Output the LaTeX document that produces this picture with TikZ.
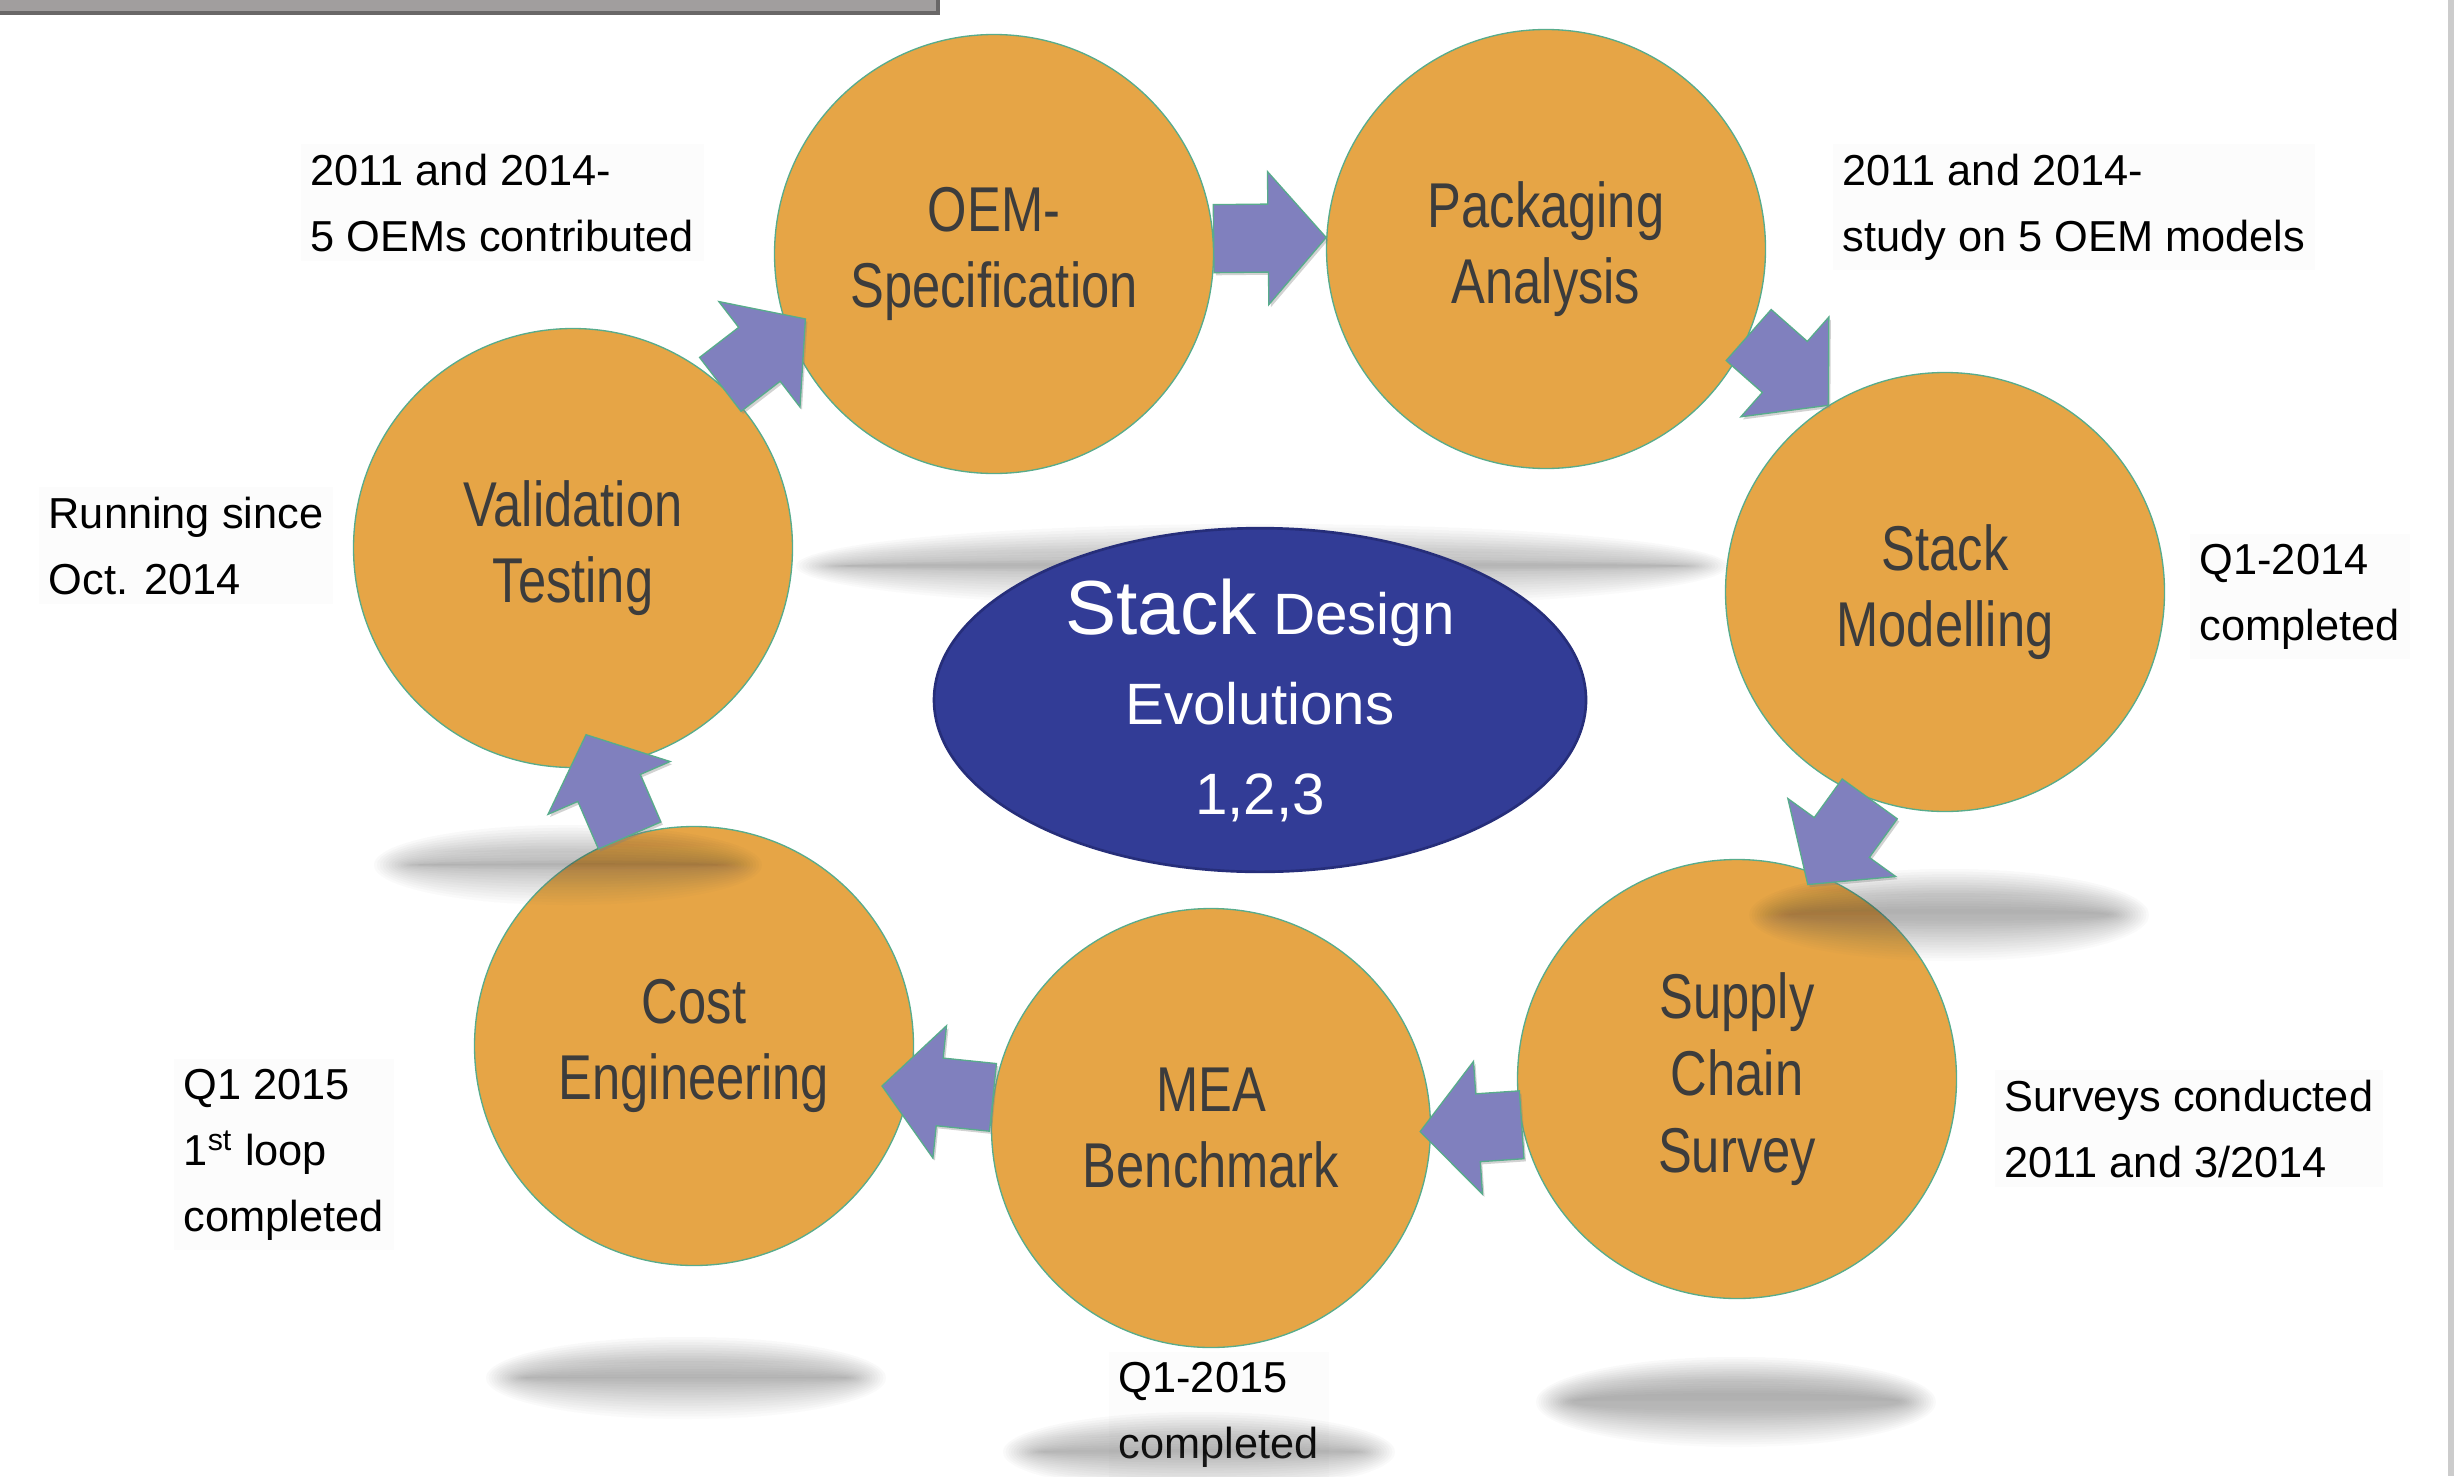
\documentclass[tikz,border=0pt]{standalone}
\usepackage{fontspec}
\setmainfont{Liberation Sans}
\newfontfamily\circfont[FakeStretch=0.8]{Liberation Sans}
\usetikzlibrary{calc,shadows,shapes.geometric}

\definecolor{disc}{RGB}{230,165,70}
\definecolor{discline}{RGB}{88,172,140}
\definecolor{flow}{RGB}{128,128,190}
\definecolor{hub}{RGB}{50,60,150}
\definecolor{hubline}{RGB}{38,46,122}
\definecolor{disctext}{RGB}{60,60,60}
\definecolor{shade}{RGB}{80,70,70}
\definecolor{topbar}{RGB}{161,158,158}

% soft floor shadow: centre x, centre y, core x radius, core y radius, blur width
\newcommand\softshadow[5]{%
  \foreach \k in {0,...,15}{%
    \fill[shade, opacity=0.016] (#1,#2) ellipse [x radius={#3+#5-\k*#5/7.5}, y radius={#4+#5-\k*#5/7.5}];
  }}

% block arrow from a tail point to a tip point
\newcommand\flowlink[2]{%
  \path (#1) coordinate (fl-t) (#2) coordinate (fl-p);
  \path ($(fl-p)!17.4pt!(fl-t)$) coordinate (fl-b);
  \draw[flowarrow]
    ($(fl-t)!10.2pt!90:(fl-p)$) -- ($(fl-b)!10.2pt!90:(fl-p)$) --
    ($(fl-b)!19.95pt!90:(fl-p)$) -- (fl-p) --
    ($(fl-b)!19.95pt!-90:(fl-p)$) -- ($(fl-b)!10.2pt!-90:(fl-p)$) --
    ($(fl-t)!10.2pt!-90:(fl-p)$) -- cycle;
}

\begin{document}
\begin{tikzpicture}[x=0.3pt, y=-0.3pt,
  stage/.style={circle, minimum size=131.7pt, inner sep=0pt, fill=disc,
    draw=discline, line width=0.4pt, text=disctext, align=center,
    font=\circfont\fontsize{19}{23}\selectfont},
  note/.style={anchor=base west, align=left, inner sep=3pt, fill=black!1,
    font=\fontsize{13}{19.7}\selectfont, text=black},
  flowarrow/.style={fill=flow, draw=discline, line width=0.4pt, line join=miter,
    drop shadow={shadow xshift=0.6pt, shadow yshift=-0.8pt, opacity=0.35}}
]
\useasboundingbox (0,0) rectangle (2458,1476);
\fill[white] (0,0) rectangle (2458,1476);

% frame pieces
\fill[topbar] (0,0) rectangle (940,14);
\draw[topbar!65!black, line width=1.1pt] (0,13) -- (938,13) -- (938,0);
\fill[black!20] (2448,0) rectangle (2454,1476);

% status notes (anchored at the baseline of their last line)
\node[note] (n1) at (300,251) {2011 and 2014-\\5 OEMs contributed};
\node[note] (n2) at (1832,251) {2011 and 2014-\\study on 5 OEM models};
\node[note] (n3) at (38,594) {Running since\\Oct. 2014};
\node[note] (n4) at (2189,640) {Q1-2014\\completed};
\node[note] (n5) at (1994,1177) {Surveys conducted\\2011 and 3/2014};
\node[note] (n6) at (173,1231) {Q1 2015\\1\textsuperscript{st} loop\\completed};
\node[note] (n7) at (1108,1458) {Q1-2015\\completed};

% process stages
\node[stage] (oem) at (994,254) {OEM-\\Specification};
\node[stage] (pkg) at (1546,249) {Packaging\\Analysis};
\node[stage] (stk) at (1945,592) {Stack\\Modelling};
\node[stage] (sup) at (1737,1079) {Supply\\Chain\\Survey};
\node[stage] (mea) at (1211,1128) {MEA\\Benchmark};
\node[stage] (cst) at (694,1046) {Cost\\Engineering};
\node[stage] (val) at (573,548) {Validation\\Testing};

% floor shadows
\softshadow{1262}{566}{442}{18}{24}
\softshadow{568}{865}{172}{18}{22}
\softshadow{1949}{915}{180}{26}{20}
\softshadow{686}{1378}{180}{21}{20}
\softshadow{1199}{1452}{176}{20}{20}
\softshadow{1736}{1402}{182}{27}{18}

% cycle arrows
\flowlink{val.48.8}{$(oem.center)!0.906!(oem.199.7)$}
\flowlink{oem.4.2}{pkg.177.1}
\flowlink{pkg.-23.5}{stk.122.4}
\flowlink{stk.250.1}{$(sup.center)!0.94!(sup.70.1)$}
\flowlink{sup.192.1}{$(mea.center)!0.95!(mea.-1.1)$}
\flowlink{mea.172.8}{$(cst.center)!0.873!(cst.-12.7)$}
\flowlink{cst.107.3}{$(val.center)!0.85!(val.-86.6)$}

% central hub
\node[ellipse, minimum width=195.6pt, minimum height=96pt, inner sep=0pt,
  fill=hub, draw=hubline, line width=0.8pt, text=white, align=center,
  font=\fontsize{17.5}{27}\selectfont] (hub) at (1260,700)
  {{\fontsize{23}{27}\selectfont Stack} Design\\Evolutions\\1,2,3};
\end{tikzpicture}
\end{document}
